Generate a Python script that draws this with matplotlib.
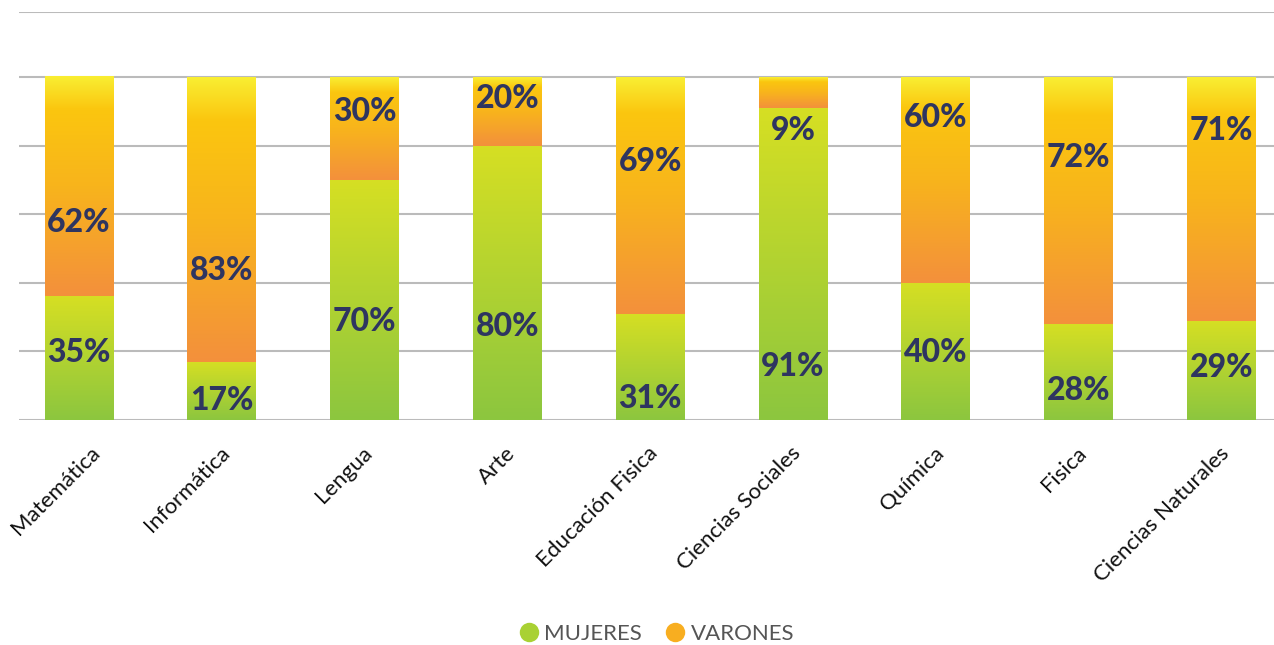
import numpy as np
import matplotlib
matplotlib.use("Agg")
import matplotlib.pyplot as plt
from matplotlib.colors import LinearSegmentedColormap
from matplotlib.lines import Line2D
from matplotlib.transforms import ScaledTranslation

materias = ["Matemática", "Informática", "Lengua", "Arte", "Educación Fisica",
            "Ciencias Sociales", "Química", "Fisica", "Ciencias Naturales"]
mujeres = [35, 17, 70, 80, 31, 91, 40, 28, 29]
varones = [62, 83, 30, 20, 69, 9, 60, 72, 71]

# where the percentage labels sit (in % of the bar)
label_y_mujeres = [19.8, 5.8, 28.6, 27.4, 6.4, 15.7, 19.8, 8.5, 15.2]
label_y_varones = [57.7, 43.7, 90.1, 93.9, 75.5, 84.5, 88.3, 76.7, 84.3]

cmap_verde = LinearSegmentedColormap.from_list("verde", ["#8CC63F", "#D6DF23"])
cmap_naranja = LinearSegmentedColormap.from_list(
    "naranja", [(0.0, "#F3903C"), (0.5, "#F8B41C"), (0.85, "#FBC60F"), (1.0, "#F9EE32")])

fig = plt.figure(figsize=(12.74, 6.45), dpi=100)
ax = fig.add_axes([19 / 1274, 1 - 420 / 645, 1 - 19 / 1274, (420 - 12) / 645])

x = np.arange(len(materias))
total = np.array(mujeres) + np.array(varones)
m_share = np.array(mujeres) / total * 100
v_share = np.array(varones) / total * 100

bars_m = ax.bar(x, m_share, 0.48, color="none", linewidth=0)
bars_v = ax.bar(x, v_share, 0.48, bottom=m_share, color="none", linewidth=0)

grad = np.linspace(0, 1, 256).reshape(-1, 1)
for patches, cmap in [(bars_m, cmap_verde), (bars_v, cmap_naranja)]:
    for p in patches:
        x0, y0 = p.get_x(), p.get_y()
        ax.imshow(grad, cmap=cmap, origin="lower", aspect="auto", zorder=2,
                  extent=[x0, x0 + p.get_width(), y0, y0 + p.get_height()])

for i in range(len(materias)):
    ax.text(x[i], label_y_mujeres[i], f"{mujeres[i]}%", ha="center", va="center",
            fontsize=23, fontweight="black", family="Lato", color="#2E3560", zorder=3)
    ax.text(x[i], label_y_varones[i], f"{varones[i]}%", ha="center", va="center",
            fontsize=23, fontweight="black", family="Lato", color="#2E3560", zorder=3)

ax.set_xlim(-0.42, 8.37)
ax.set_ylim(0, 119)
ax.set_yticks([0, 20, 40, 60, 80, 100, 119])
ax.yaxis.grid(True, color="#BBBBBB", linewidth=1.5)
ax.set_axisbelow(True)
ax.tick_params(axis="y", left=False, labelleft=False)
ax.tick_params(axis="x", length=0, pad=0)
for s in ax.spines.values():
    s.set_visible(False)

ax.set_xticks(x, materias, rotation=45, ha="right", va="center",
              rotation_mode="anchor", fontsize=16, family="Lato", color="#111111")
offset = ScaledTranslation(5 / 100, -30 / 100, fig.dpi_scale_trans)
for lbl in ax.get_xticklabels():
    lbl.set_transform(lbl.get_transform() + offset)

# push labels that would leave the canvas back inside, like the original does
fig.canvas.draw()
renderer = fig.canvas.get_renderer()
for lbl in ax.get_xticklabels():
    bb = lbl.get_window_extent(renderer)
    if bb.x0 < 8:
        lbl.set_transform(lbl.get_transform() +
                          ScaledTranslation((8 - bb.x0) / 100, 0, fig.dpi_scale_trans))

handles = [Line2D([], [], linestyle="none", marker="o", markersize=14,
                  markerfacecolor="#A9D133", markeredgewidth=0, label="MUJERES"),
           Line2D([], [], linestyle="none", marker="o", markersize=14,
                  markerfacecolor="#F8AE20", markeredgewidth=0, label="VARONES")]
leg = fig.legend(handles=handles, loc="center", ncol=2, frameon=False,
                 bbox_to_anchor=(655 / 1274, 1 - 634 / 645), handletextpad=0.1,
                 handlelength=1.2, columnspacing=0.9, prop={"family": "Lato", "size": 16})
for t in leg.get_texts():
    t.set_color("#555555")

fig.savefig("out.png", dpi=100)
